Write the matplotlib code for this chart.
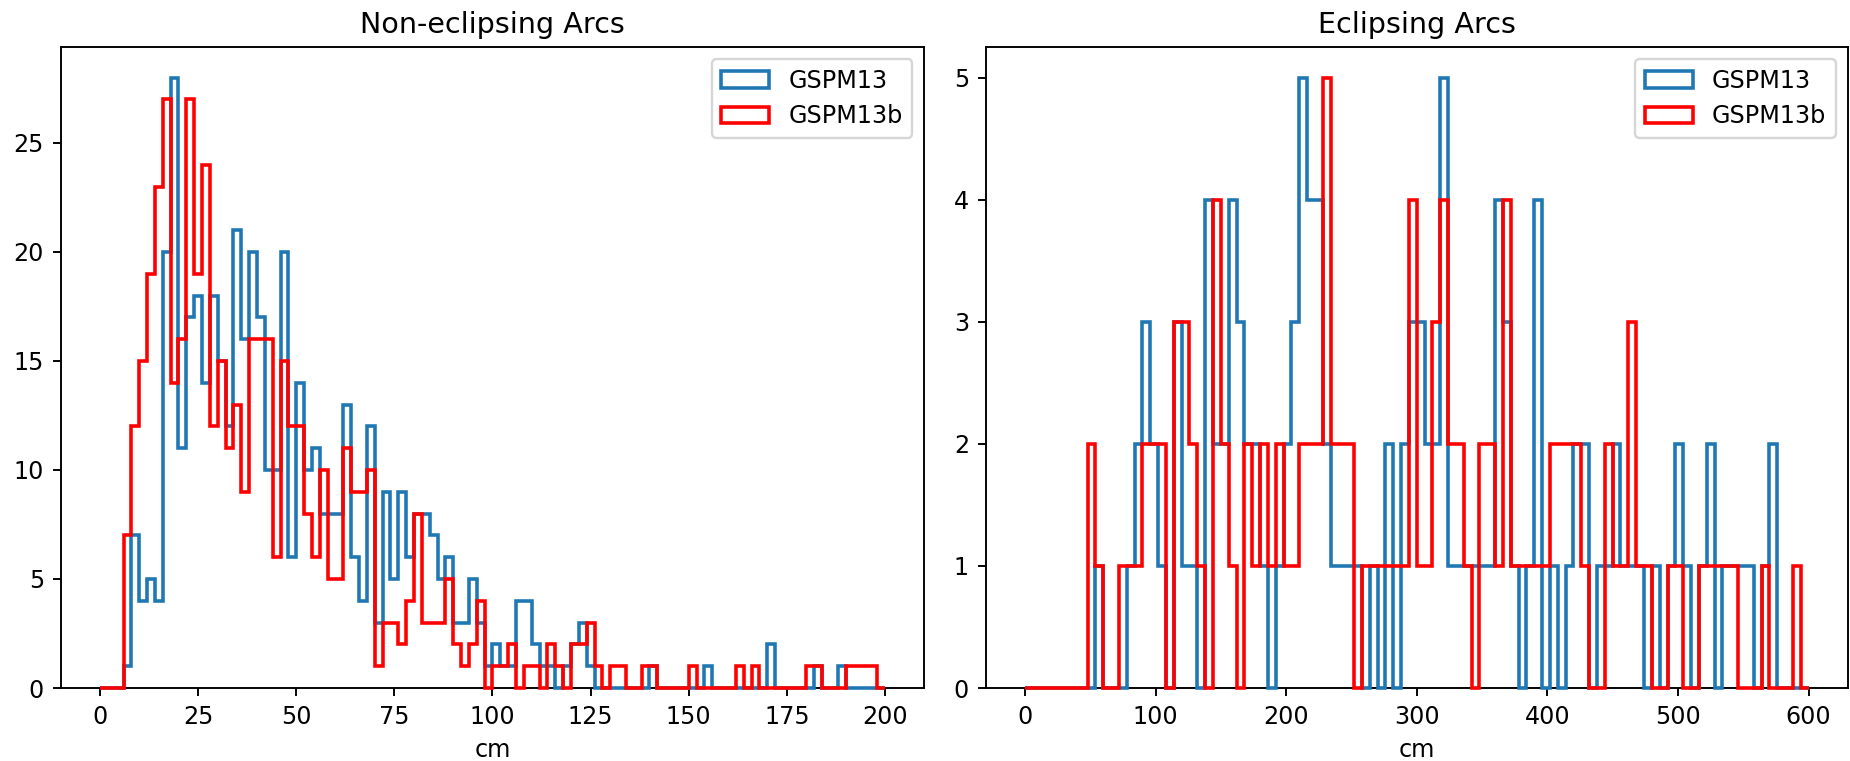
import numpy as np
import matplotlib.pyplot as plt

# bin edges (cm)
edges_non = np.linspace(0, 200, 101)
edges_ecl = np.linspace(0, 600, 101)

# counts per bin
non_gspm13 = [0, 0, 0, 1, 7, 4, 5, 4, 20, 28, 11, 17, 18, 14, 18, 15, 12, 21, 16, 20,
              17, 10, 10, 20, 6, 14, 10, 11, 8, 8, 8, 13, 6, 4, 12, 3, 9, 5, 9, 6,
              8, 8, 7, 5, 6, 3, 3, 5, 3, 1, 2, 1, 1, 4, 4, 2, 1, 1, 0, 1,
              2, 3, 1, 0, 0, 0, 0, 0, 0, 0, 1, 0, 0, 0, 0, 0, 0, 1, 0, 0,
              0, 0, 0, 0, 0, 2, 0, 0, 0, 0, 0, 1, 0, 0, 1, 0, 0, 0, 0, 0]
non_gspm13b = [0, 0, 0, 7, 12, 15, 19, 23, 27, 14, 16, 27, 19, 24, 12, 15, 11, 13, 9, 16,
               16, 16, 6, 15, 12, 12, 8, 6, 10, 5, 5, 11, 9, 9, 10, 1, 3, 3, 2, 4,
               8, 3, 3, 3, 5, 2, 1, 2, 4, 0, 1, 1, 2, 0, 1, 1, 0, 2, 1, 0,
               2, 2, 3, 1, 0, 1, 1, 0, 0, 1, 1, 0, 0, 0, 0, 1, 0, 0, 0, 0,
               0, 1, 0, 1, 0, 0, 0, 0, 0, 0, 1, 1, 0, 0, 0, 1, 1, 1, 1, 0]

ecl_gspm13 = [0, 0, 0, 0, 0, 0, 0, 0, 0, 1, 0, 0, 0, 1, 2, 3, 2, 1, 0, 3,
              1, 1, 0, 4, 2, 2, 4, 3, 2, 2, 1, 0, 1, 2, 3, 5, 4, 4, 2, 1,
              1, 1, 1, 0, 1, 0, 2, 0, 2, 3, 3, 2, 2, 5, 1, 1, 1, 1, 1, 1,
              4, 3, 1, 0, 1, 4, 0, 1, 0, 1, 2, 2, 0, 1, 1, 2, 1, 1, 1, 0,
              1, 0, 1, 2, 1, 0, 1, 2, 0, 1, 1, 1, 1, 0, 1, 2, 0, 0, 0, 0]
ecl_gspm13b = [0, 0, 0, 0, 0, 0, 0, 0, 2, 1, 0, 0, 1, 1, 1, 2, 2, 2, 0, 3,
               3, 2, 1, 0, 4, 2, 1, 0, 2, 1, 2, 1, 2, 1, 1, 2, 2, 2, 5, 2,
               2, 2, 0, 1, 1, 1, 1, 1, 1, 4, 1, 1, 3, 4, 2, 2, 1, 0, 2, 2,
               1, 4, 1, 1, 1, 1, 1, 2, 2, 2, 2, 1, 0, 0, 2, 1, 1, 3, 1, 1,
               0, 0, 1, 1, 0, 0, 1, 1, 1, 1, 1, 0, 0, 0, 1, 0, 0, 0, 1, 0]

W, H, DPI = 1851, 761, 172
fig = plt.figure(figsize=(W / DPI, H / DPI), dpi=DPI)
ax1 = fig.add_axes([60.75 / W, 73 / H, 863.5 / W, 641 / H])
ax2 = fig.add_axes([985.75 / W, 73 / H, 862 / W, 641 / H])

centers_non = (edges_non[:-1] + edges_non[1:]) / 2
centers_ecl = (edges_ecl[:-1] + edges_ecl[1:]) / 2

# step outlines sit on top of the bottom spine, like in the original
style = dict(histtype='step', linewidth=1.5, zorder=3, clip_on=False)

ax1.hist(centers_non, bins=edges_non, weights=non_gspm13, color='tab:blue',
         label='GSPM13', **style)
ax1.hist(centers_non, bins=edges_non, weights=non_gspm13b, color='red',
         label='GSPM13b', **style)
ax1.set_title('Non-eclipsing Arcs')
ax1.set_xlabel('cm')
ax1.legend(loc='upper right')

ax2.hist(centers_ecl, bins=edges_ecl, weights=ecl_gspm13, color='tab:blue',
         label='GSPM13', **style)
ax2.hist(centers_ecl, bins=edges_ecl, weights=ecl_gspm13b, color='red',
         label='GSPM13b', **style)
ax2.set_title('Eclipsing Arcs')
ax2.set_xlabel('cm')
ax2.legend(loc='upper right')

plt.savefig('out.png', dpi=DPI)
print("Generated: out.png")
